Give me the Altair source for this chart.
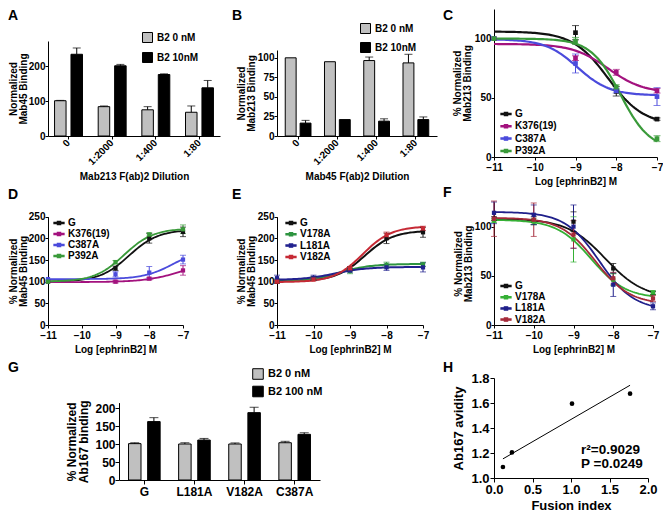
import altair as alt
import pandas as pd

FONT = "Liberation Sans"

# ---------------- data ----------------
# Panel A
a_cats = ["0", "1:2000", "1:400", "1:80"]
a_groups = ["B2 0 nM", "B2 10nM"]
a_low = [101, 84, 75, 68]
a_low_err = [1, 2, 9, 18]
a_high = [234, 201, 176, 138]
a_high_err = [18, 4, 2, 21]

# Panel B
b_cats = ["0", "1:2000", "1:400", "1:80"]
b_groups = ["B2 0 nM", "B2 10nM"]
b_low = [100, 95, 96.5, 93.5]
b_low_err = [0, 0, 4.5, 11]
b_high = [16.5, 21, 19, 21]
b_high_err = [3.5, 0, 3, 3.4]

# Panel C
c_x = [-11, -9, -8, -7]
c_series = ["G", "K376(19)", "C387A", "P392A"]
c_vals = [[100, 105, 55.5, 32], [100, 83.5, 71.5, 56], [100, 79, 56, 51], [100, 98, 59, 15.5]]
c_errs = [[0, 6, 4, 1], [0, 2, 2.5, 2], [0, 8, 2, 7.5], [0, 3, 2, 2.5]]
c_p_lo = [106, 95.5, 99.5, 100]
c_p_hi = [27, 54, 52, 6]
c_ec50 = [-8.2, -8.2, -8.95, -7.9]
c_hill = [1.0, 1.0, 1.1, 1.2]

# Panel D
d_x = [-11, -9, -8, -7]
d_series = ["G", "K376(19)", "C387A", "P392A"]
d_vals = [[100, 131, 200, 215], [100, 100, 107, 126], [106, 117, 121, 151], [100, 145, 209, 221]]
d_errs = [[0, 5, 11, 11], [0, 3, 3, 11], [0, 6, 14, 10], [0, 4, 4, 10]]
d_p_lo = [100, 99, 106, 100]
d_p_hi = [220, 151, 175, 223]
d_ec50 = [-8.6, -7.0, -7.3, -8.75]
d_hill = [1.0, 0.8, 1.0, 1.0]

# Panel E
e_x = [-11, -10, -9, -8, -7]
e_series = ["G", "V178A", "L181A", "V182A"]
e_vals = [[100, 107, 130, 200, 214], [103, 107, 125, 138.5, 140],
          [108, 109, 126, 133, 133], [100, 105, 131, 207.5, 223]]
e_errs = [[4, 4, 5, 12, 11.5], [3, 3, 6.5, 6.5, 5], [7, 6, 4, 7, 10.5], [3, 3, 4, 7, 5]]
e_p_lo = [101, 100, 104, 99]
e_p_hi = [218, 141, 134, 228]
e_ec50 = [-8.6, -9.3, -9.4, -8.65]
e_hill = [1.1, 1.0, 1.0, 1.1]

# Panel F
f_x = [-11, -10, -9, -8, -7]
f_series = ["G", "V178A", "L181A", "V182A"]
f_vals = [[108, 106, 105, 57.5, 32.5], [106, 105, 87, 46, 33],
          [114, 112, 100, 41, 19], [108, 107, 92, 47.5, 27]]
f_errs = [[2, 4, 10, 5, 1.5], [2, 3, 23, 6, 2], [11, 10, 22, 12, 3.5], [18, 17, 14, 6, 3]]
f_p_lo = [108, 107, 115, 109]
f_p_hi = [27, 27, 15, 21]
f_ec50 = [-8.2, -8.55, -8.35, -8.45]
f_hill = [0.9, 1.0, 1.0, 1.0]

# Panel G
g_cats = ["G", "L181A", "V182A", "C387A"]
g_groups = ["B2 0 nM", "B2 100 nM"]
g_low = [101.5, 100.5, 100.5, 104]
g_low_err = [2.5, 3.5, 3, 4]
g_high = [163, 111.5, 188, 127.5]
g_high_err = [11, 4.5, 15, 4.5]

# Panel H
h_fusion = [0.116, 0.233, 1.013, 1.767]
h_avidity = [1.088, 1.205, 1.595, 1.675]
h_stats = ["r\u00b2=0.9029", "P =0.0249"]

# sampling grid (log M) on which the fitted dose-response curves are drawn
curve_grid = [round(-11 + i * 0.05, 3) for i in range(81)]

LEG_PATH = "M-1,-0.12H1V0.12H-1Z M-0.32,-0.32H0.32V0.32H-0.32Z"


def letter(t, dx, dy):
    return alt.TitleParams(text=t, anchor="start", frame="group", orient="top", offset=0,
                           dx=dx, dy=dy, baseline="top", fontSize=14, fontWeight="bold",
                           font=FONT, color="black")


def bar_panel(cats, groups, low, low_err, high, high_err, *, width, height, xpad_in, xpad_out,
              off_pad, ydom, yrng, yvals, ytitle, xtitle, lab_size, title_size, title_lh,
              ytitle_pad, xlab_angle, legend_x, legend_y, legend_size, legend_font,
              legend_rowpad, cap, title, xrange=None, yaxis_offset=0, xtitle_pad=4, tick=3):
    rows = []
    for g, vals, errs in ((groups[0], low, low_err), (groups[1], high, high_err)):
        for c, v, e in zip(cats, vals, errs):
            rows.append({"cat": c, "grp": g, "val": v, "err": e, "top": v + e})
    df = pd.DataFrame(rows)
    xsc = dict(paddingInner=xpad_in, paddingOuter=xpad_out)
    if xrange is not None:
        xsc["range"] = xrange
    xax = dict(labelAngle=xlab_angle, labelFontSize=lab_size, titleFontSize=title_size,
               tickSize=tick, labelPadding=2, titlePadding=xtitle_pad, title=xtitle,
               labelOverlap=False)
    if xlab_angle != 0:
        xax.update(labelAlign="right", labelBaseline="middle")
    x = alt.X("cat:N", sort=cats, scale=alt.Scale(**xsc), axis=alt.Axis(**xax))
    xo = alt.XOffset("grp:N", sort=groups, scale=alt.Scale(paddingInner=off_pad, paddingOuter=0))
    yax = dict(values=yvals, title=ytitle, labelFontSize=lab_size, titleFontSize=title_size,
               titleLineHeight=title_lh, tickSize=tick, labelPadding=0, titlePadding=ytitle_pad,
               labelOverlap=False)
    if yaxis_offset:
        yax["offset"] = yaxis_offset
    y = alt.Y("val:Q", scale=alt.Scale(domain=ydom, range=yrng, nice=False, zero=False),
              axis=alt.Axis(**yax))
    color = alt.Color("grp:N", sort=groups,
                      scale=alt.Scale(domain=groups, range=["#c0c0c0", "#000000"]),
                      legend=alt.Legend(orient="none", legendX=legend_x, legendY=legend_y,
                                        title=None, symbolType="square", symbolSize=legend_size,
                                        symbolStrokeColor="black", symbolStrokeWidth=1,
                                        symbolOpacity=1, labelFontSize=legend_font,
                                        labelOffset=4, rowPadding=legend_rowpad, padding=0))
    base = alt.Chart(df)
    bars = base.mark_bar(stroke="black", strokeWidth=1, opacity=1).encode(
        x=x, xOffset=xo, y=y, color=color)
    errb = base.transform_filter("datum.err > 0")
    rule = errb.mark_rule(color="black", strokeWidth=1).encode(x=x, xOffset=xo, y=y, y2="top:Q")
    caps = errb.transform_calculate(val="datum.top").mark_tick(
        color="black", thickness=1, size=cap, orient="horizontal").encode(x=x, xOffset=xo, y=y)
    return alt.layer(bars, rule, caps).properties(width=width, height=height, title=title)


def curve_panel(xs, series, colors, vals, errs, p_lo, p_hi, ec50, hill, *, width, height, ydom,
                yrng, yvals, ytitle, lab_size, title_size, title_lh, ytitle_pad, legend_x,
                legend_y, legend_rowpad, legend_font, lw, msize, cap, title):
    rows = []
    for s, vv, ee in zip(series, vals, errs):
        for xv, v, e in zip(xs, vv, ee):
            rows.append({"series": s, "lx": xv, "val": v, "err": e, "lo": v - e, "hi": v + e})
    pts = pd.DataFrame(rows)
    cdf = pd.DataFrame({"series": series, "p_lo": p_lo, "p_hi": p_hi, "ec50": ec50,
                        "hill": hill, "lx": [curve_grid for _ in series]})
    x = alt.X("lx:Q", scale=alt.Scale(domain=[-11, -7], nice=False, zero=False),
              axis=alt.Axis(values=[-11, -10, -9, -8, -7], format="d", title="Log [ephrinB2] M",
                            labelFontSize=lab_size, titleFontSize=title_size, labelFlush=False,
                            tickSize=3, labelPadding=2, titlePadding=4, labelOverlap=False))
    ysc = dict(domain=ydom, nice=False, zero=False)
    if yrng is not None:
        ysc["range"] = yrng
    yax = alt.Axis(values=yvals, title=ytitle, labelFontSize=lab_size, titleFontSize=title_size,
                   titleLineHeight=title_lh, tickSize=3, labelPadding=0, titlePadding=ytitle_pad,
                   labelOverlap=False)

    def yenc(field):
        return alt.Y(f"{field}:Q", scale=alt.Scale(**ysc), axis=yax)

    cscale = alt.Scale(domain=series, range=colors)
    leg = alt.Legend(orient="none", legendX=legend_x, legendY=legend_y, title=None,
                     symbolType=LEG_PATH, symbolSize=100, symbolStrokeWidth=1.3,
                     symbolOpacity=1, labelFontSize=legend_font, labelOffset=3,
                     rowPadding=legend_rowpad, padding=0)
    col = alt.Color("series:N", sort=series, scale=cscale, legend=leg)
    curves = alt.Chart(cdf).transform_flatten(["lx"]).transform_calculate(
        val="datum.p_lo + (datum.p_hi - datum.p_lo) / (1 + pow(10, (datum.ec50 - datum.lx) * datum.hill))"
    ).mark_line(strokeWidth=lw).encode(x=x, y=yenc("val"), color=col, detail="series:N")
    eb = alt.Chart(pts).transform_filter("datum.err > 0")
    rules = eb.mark_rule(strokeWidth=1).encode(x=x, y=yenc("lo"), y2="hi:Q", color=col)
    cap_lo = eb.mark_tick(thickness=1, size=cap, orient="horizontal").encode(
        x=x, y=yenc("lo"), color=col)
    cap_hi = eb.mark_tick(thickness=1, size=cap, orient="horizontal").encode(
        x=x, y=yenc("hi"), color=col)
    points = alt.Chart(pts).mark_point(filled=True, shape="square", size=msize, opacity=1).encode(
        x=x, y=yenc("val"), color=col)
    return alt.layer(curves, rules, cap_lo, cap_hi, points).properties(
        width=width, height=height, title=title)


cd_colors = ["#111111", "#a3127e", "#4b4bdc", "#3a9a3a"]
e_colors = ["#111111", "#2e9440", "#22228f", "#c62a35"]
f_colors = ["#111111", "#35b035", "#1f1f8a", "#a52a3a"]

pa = bar_panel(a_cats, a_groups, a_low, a_low_err, a_high, a_high_err,
               width=172, height=127, xpad_in=0.36, xpad_out=0.15, off_pad=0.3,
               ydom=[0, 272], yrng=[127, 32], yvals=[0, 100, 200],
               ytitle=["Normalized", "Mab45 Binding"], xtitle="Mab213 F(ab)2 Dilution",
               lab_size=10, title_size=10, title_lh=9.5, ytitle_pad=0, xlab_angle=-45,
               legend_x=94, legend_y=23, legend_size=100, legend_font=10, legend_rowpad=5,
               cap=8, title=letter("A", -40, 13.5), xtitle_pad=5)

pb = bar_panel(b_cats, b_groups, b_low, b_low_err, b_high, b_high_err,
               width=160, height=127, xpad_in=0.344, xpad_out=0.21, off_pad=0.267,
               ydom=[0, 110], yrng=[127, 41], yvals=[0, 25, 50, 75, 100],
               ytitle=["Normalized", "Mab213 Binding"], xtitle="Mab45 F(ab)2 Dilution",
               lab_size=10, title_size=10, title_lh=9.5, ytitle_pad=1, xlab_angle=-45,
               legend_x=83, legend_y=14, legend_size=100, legend_font=10, legend_rowpad=4,
               cap=8, title=letter("B", -45, 13.5), xtitle_pad=5)

pc = curve_panel(c_x, c_series, cd_colors, c_vals, c_errs, c_p_lo, c_p_hi, c_ec50, c_hill,
                 width=163, height=148, ydom=[0, 125], yrng=None, yvals=[0, 50, 100],
                 ytitle=["% Normalized", "Mab213 Binding"], lab_size=10, title_size=10,
                 title_lh=9.5, ytitle_pad=2, legend_x=6, legend_y=99, legend_rowpad=1.3,
                 legend_font=10, lw=2.2, msize=22, cap=7, title=letter("C", -51, 13.5))

pd_ = curve_panel(d_x, d_series, cd_colors, d_vals, d_errs, d_p_lo, d_p_hi, d_ec50, d_hill,
                  width=135, height=123, ydom=[0, 250], yrng=[123, 14.7],
                  yvals=[0, 50, 100, 150, 200, 250], ytitle=["% Normalized", "Mab45 Binding"],
                  lab_size=10, title_size=10, title_lh=9.5, ytitle_pad=0, legend_x=5,
                  legend_y=15, legend_rowpad=-0.5, legend_font=10, lw=1.8, msize=18, cap=6,
                  title=letter("D", -40, -0.1))

pe = curve_panel(e_x, e_series, e_colors, e_vals, e_errs, e_p_lo, e_p_hi, e_ec50, e_hill,
                 width=146, height=123, ydom=[0, 250], yrng=[123, 14.7],
                 yvals=[0, 50, 100, 150, 200, 250], ytitle=["% Normalized", "Mab45 Binding"],
                 lab_size=10, title_size=10, title_lh=9.5, ytitle_pad=1, legend_x=8,
                 legend_y=15, legend_rowpad=0.3, legend_font=10, lw=2, msize=18, cap=6,
                 title=letter("E", -45, -0.1))

pf = curve_panel(f_x, f_series, f_colors, f_vals, f_errs, f_p_lo, f_p_hi, f_ec50, f_hill,
                 width=159, height=123, ydom=[0, 125], yrng=None, yvals=[0, 50, 100],
                 ytitle=["% Normalized", "Mab213 Binding"], lab_size=10, title_size=10,
                 title_lh=9.5, ytitle_pad=1, legend_x=6, legend_y=78, legend_rowpad=0.2,
                 legend_font=10, lw=1.8, msize=18, cap=6, title=letter("F", -51, -0.1))

pg = bar_panel(g_cats, g_groups, g_low, g_low_err, g_high, g_high_err,
               width=172, height=110, xpad_in=0.369, xpad_out=0.19, off_pad=0.347,
               ydom=[0, 216], yrng=[110, 32.6], yvals=[0, 50, 100, 150, 200],
               ytitle=["% Normalized", "Ab167 binding"], xtitle=None,
               lab_size=12, title_size=12, title_lh=12, ytitle_pad=4, xlab_angle=0,
               legend_x=204, legend_y=-2, legend_size=112, legend_font=11, legend_rowpad=1.5,
               cap=9, title=letter("G", -40, 6.5), xrange=[71, 272], yaxis_offset=-71,
               tick=4)

spacer = alt.Chart(pd.DataFrame({"v": [0]})).mark_point(opacity=0).encode(
    x=alt.X("v:Q", axis=None), y=alt.Y("v:Q", axis=None)).properties(width=1, height=1)

hdf = pd.DataFrame({"fx": h_fusion, "av": h_avidity})
hx = alt.X("fx:Q", scale=alt.Scale(domain=[0, 2], nice=False, zero=False),
           axis=alt.Axis(values=[0, 0.5, 1, 1.5, 2], format=".1f", title="Fusion index",
                         labelFontSize=13, titleFontSize=13, labelFlush=False, tickSize=4,
                         labelPadding=1, titlePadding=3, labelOverlap=False))
hy = alt.Y("av:Q", scale=alt.Scale(domain=[1.0, 1.8], range=[108, 8], nice=False, zero=False),
           axis=alt.Axis(values=[1.0, 1.2, 1.4, 1.6, 1.8], format=".1f", title="Ab167 avidity",
                         labelFontSize=13, titleFontSize=13, tickSize=4, labelPadding=1,
                         titlePadding=5, labelOverlap=False))
h_pts = alt.Chart(hdf).mark_circle(size=22, color="black", opacity=1).encode(x=hx, y=hy)
h_reg = alt.Chart(hdf).transform_regression("fx", "av").mark_line(
    color="black", strokeWidth=1).encode(x=hx, y=hy)
# annotation table: the two statistics lines, anchored in data units below the fit line
sdf = pd.DataFrame({"t": h_stats, "fx": [1.13, 1.13], "av": [1.228, 1.112]})
h_txt = alt.Chart(sdf).mark_text(
    align="left", baseline="middle", fontSize=13.5, fontWeight="bold", font=FONT,
    color="black").encode(x=hx, y=hy, text="t:N")
ph = alt.layer(h_reg, h_pts, h_txt).properties(width=154, height=108,
                                               title=letter("H", -51, 4.9))

chart = alt.concat(
    pa, pb, pc, pd_, pe, pf, pg, spacer, ph,
    columns=3, spacing={"row": 45, "column": 57}, bounds="flush", align="none"
).resolve_scale(
    color="independent", xOffset="independent"
).properties(
    padding=0, background="white"
).configure_view(
    stroke=None
).configure_axis(
    labelFont=FONT, titleFont=FONT, labelFontWeight="bold", titleFontWeight="bold",
    labelColor="black", titleColor="black", domainColor="black", tickColor="black",
    grid=False, domainWidth=1, tickWidth=1, labelOverlap=False
).configure_legend(
    labelFont=FONT, labelFontWeight="bold", labelColor="black"
).configure_title(font=FONT, color="black")

chart.save("out.html", embed_options={"renderer": "svg", "actions": False})
